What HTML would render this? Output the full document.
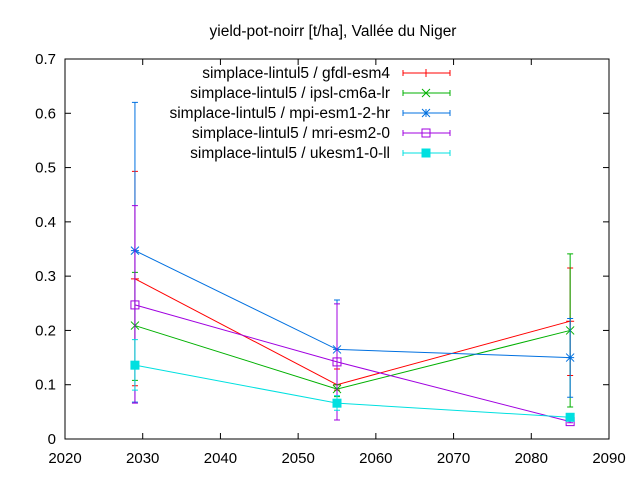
<!DOCTYPE html>
<html><head><meta charset="utf-8"><style>body{margin:0;background:#fff}svg{font-family:"Liberation Sans",sans-serif}</style></head>
<body>
<svg id="c" width="640" height="480" xmlns="http://www.w3.org/2000/svg">
<rect width="640" height="480" fill="#fff"/>
<text x="333" y="36" text-anchor="middle" font-size="15.5">yield-pot-noirr [t/ha], Vallée du Niger</text>
<g id="axes"></g><g id="series"></g><g id="legend"></g>
</svg>
<script>
const years=[2029,2055,2085];
const names=["simplace-lintul5 / gfdl-esm4","simplace-lintul5 / ipsl-cm6a-lr","simplace-lintul5 / mpi-esm1-2-hr","simplace-lintul5 / mri-esm2-0","simplace-lintul5 / ukesm1-0-ll"];
const colors=["#ff0000","#00b000","#0070e0","#a000e0","#00e0e0"];
const markers=["plus","x","star","sq","fsq"];
const vGfdl=[0.295,0.100,0.217], loGfdl=[0.098,0.090,0.117], hiGfdl=[0.493,0.129,0.315];
const vIpsl=[0.209,0.092,0.200], loIpsl=[0.108,0.078,0.059], hiIpsl=[0.307,0.100,0.341];
const vMpi=[0.347,0.165,0.150], loMpi=[0.068,0.070,0.077], hiMpi=[0.620,0.256,0.222];
const vMri=[0.247,0.142,0.032], loMri=[0.066,0.035,0.030], hiMri=[0.430,0.249,0.034];
const vUk=[0.136,0.066,0.040], loUk=[0.090,0.053,0.035], hiUk=[0.183,0.080,0.045];
const xTicks=[2020,2030,2040,2050,2060,2070,2080,2090];
const yTicks=[0,0.1,0.2,0.3,0.4,0.5,0.6,0.7];
const L=65,R=609,T=59,B=439;
const X=v=>L+(v-2020)/70*(R-L), Y=v=>B-v/0.7*(B-T);
const NS="http://www.w3.org/2000/svg";
function mk(p,t,a){const e=document.createElementNS(NS,t);for(const k in a)e.setAttribute(k,a[k]);p.appendChild(e);return e;}
const ax=document.getElementById('axes');
const fr=mk(ax,'rect',{x:L,y:T,width:R-L,height:B-T,fill:'none',stroke:'#000'});

xTicks.forEach(t=>{const x=X(t);
 mk(ax,'line',{x1:x,y1:B,x2:x,y2:B-6,stroke:'#000'});mk(ax,'line',{x1:x,y1:T,x2:x,y2:T+6,stroke:'#000'});
 const tx=mk(ax,'text',{x:x,y:B+24,'text-anchor':'middle','font-size':15});tx.textContent=t;
 });
yTicks.forEach(t=>{const y=Y(t);
 mk(ax,'line',{x1:L,y1:y,x2:L+6,y2:y,stroke:'#000'});mk(ax,'line',{x1:R,y1:y,x2:R-6,y2:y,stroke:'#000'});
 const tx=mk(ax,'text',{x:L-9,y:y+5,'text-anchor':'end','font-size':15});tx.textContent=t===0?'0':t.toFixed(1);
 });
function marker(g,m,x,y,c){
 if(m==='plus'){mk(g,'path',{d:`M${x-4} ${y}h8M${x} ${y-4}v8`,stroke:c,fill:'none'});}
 else if(m==='x'){mk(g,'path',{d:`M${x-4} ${y-4}l8 8M${x-4} ${y+4}l8 -8`,stroke:c,fill:'none'});}
 else if(m==='star'){mk(g,'path',{d:`M${x-4} ${y}h8M${x} ${y-4}v8M${x-4} ${y-4}l8 8M${x-4} ${y+4}l8 -8`,stroke:c,fill:'none'});}
 else if(m==='sq'){mk(g,'rect',{x:x-4,y:y-4,width:8,height:8,stroke:c,fill:'none'});}
 else mk(g,'rect',{x:x-4.5,y:y-4.5,width:9,height:9,fill:c});
}
const data=[[vGfdl,loGfdl,hiGfdl],[vIpsl,loIpsl,hiIpsl],[vMpi,loMpi,hiMpi],[vMri,loMri,hiMri],[vUk,loUk,hiUk]];
const sg=document.getElementById('series'),lg=document.getElementById('legend');
data.forEach((d,i)=>{const c=colors[i];
 const g=mk(sg,'g',{});
 mk(g,'polyline',{points:years.map((yr,j)=>X(yr)+','+Y(d[0][j])).join(' '),fill:'none',stroke:c});
 years.forEach((yr,j)=>{const x=X(yr);
  mk(g,'path',{d:`M${x} ${Y(d[1][j])}V${Y(d[2][j])}M${x-3} ${Y(d[1][j])}h6M${x-3} ${Y(d[2][j])}h6`,stroke:c,fill:'none'});
  marker(g,markers[i],x,Y(d[0][j]),c);});
 const ly=73+i*20;
 const le=mk(lg,'g',{});
 const t=mk(le,'text',{x:390,y:ly+5,'text-anchor':'end','font-size':15.5});t.textContent=names[i];
 mk(le,'path',{d:`M403 ${ly}H450M403 ${ly-3}v6M450 ${ly-3}v6`,stroke:c,fill:'none'});
 marker(le,markers[i],426,ly,c);
});
</script>
</body></html>
